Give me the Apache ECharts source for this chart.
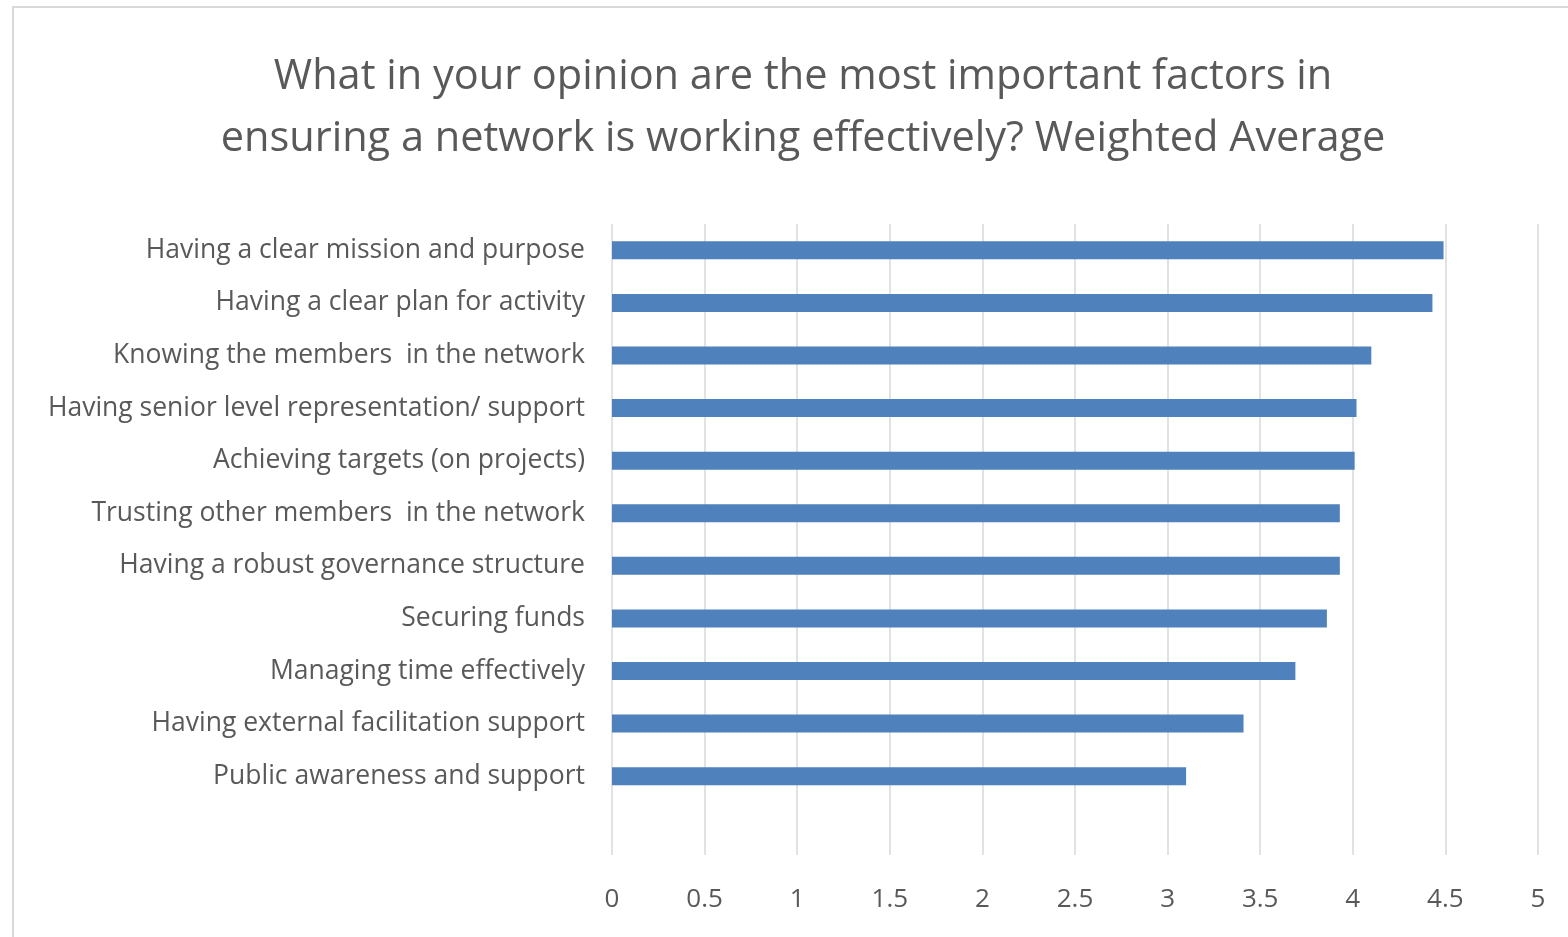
<!DOCTYPE html>
<html>
<head>
<meta charset="utf-8">
<title>Network effectiveness factors</title>
<script src="https://cdn.jsdelivr.net/npm/echarts@6/dist/echarts.min.js"></script>
<style>
  html, body { margin: 0; padding: 0; background: #fff; }
  #chart { width: 1568px; height: 937px; }
</style>
</head>
<body>
<div id="chart"></div>
<script>
// factors, top to bottom (last row is blank in the source sheet)
const factors = [
  'Having a clear mission and purpose',
  'Having a clear plan for activity',
  'Knowing the members  in the network',
  'Having senior level representation/ support',
  'Achieving targets (on projects)',
  'Trusting other members  in the network',
  'Having a robust governance structure',
  'Securing funds',
  'Managing time effectively',
  'Having external facilitation support',
  'Public awareness and support',
  ''
]
const weightedAvg = [4.49, 4.43, 4.10, 4.02, 4.01, 3.93, 3.93, 3.86, 3.69, 3.41, 3.10, null]
const xTicks = [0, 0.5, 1, 1.5, 2, 2.5, 3, 3.5, 4, 4.5, 5]

const chart = echarts.init(document.getElementById('chart'))
const textColor = '#595959'
const font = '"Open Sans", "Liberation Sans", sans-serif'

const option = {
  animation: false,
  title: {
    text: 'What in your opinion are the most important factors in\nensuring a network is working effectively? Weighted Average',
    left: 798,
    top: 41,
    textAlign: 'center',
    textStyle: {
      color: textColor,
      fontFamily: font,
      fontWeight: 'normal',
      fontSize: 41.5,
      lineHeight: 62
    }
  },
  graphic: [{
    type: 'rect',
    shape: { x: 13, y: 7, width: 1600, height: 1000 },
    style: { fill: 'none', stroke: '#d9d9d9', lineWidth: 2 },
    silent: true
  }],
  grid: {
    left: 612,
    right: 30,
    top: 224,
    bottom: 82,
    containLabel: false
  },
  xAxis: {
    type: 'value',
    min: xTicks[0],
    max: xTicks[xTicks.length - 1],
    interval: 0.5,
    axisLine: { show: false },
    axisTick: { show: false },
    splitLine: { lineStyle: { color: '#d9d9d9', width: 1.5 } },
    axisLabel: {
      color: textColor,
      fontFamily: font,
      fontSize: 26,
      margin: 32
    }
  },
  yAxis: {
    type: 'category',
    data: factors,
    inverse: true,
    axisLine: { show: false },
    axisTick: { show: false },
    splitLine: { show: false },
    axisLabel: {
      color: textColor,
      fontFamily: font,
      fontSize: 26.5,
      margin: 27,
      padding: [6, 0, 0, 0]
    }
  },
  series: [{
    type: 'bar',
    data: weightedAvg,
    barWidth: 18,
    itemStyle: { color: '#4f81bd' }
  }]
}

chart.setOption(option)
</script>
</body>
</html>
